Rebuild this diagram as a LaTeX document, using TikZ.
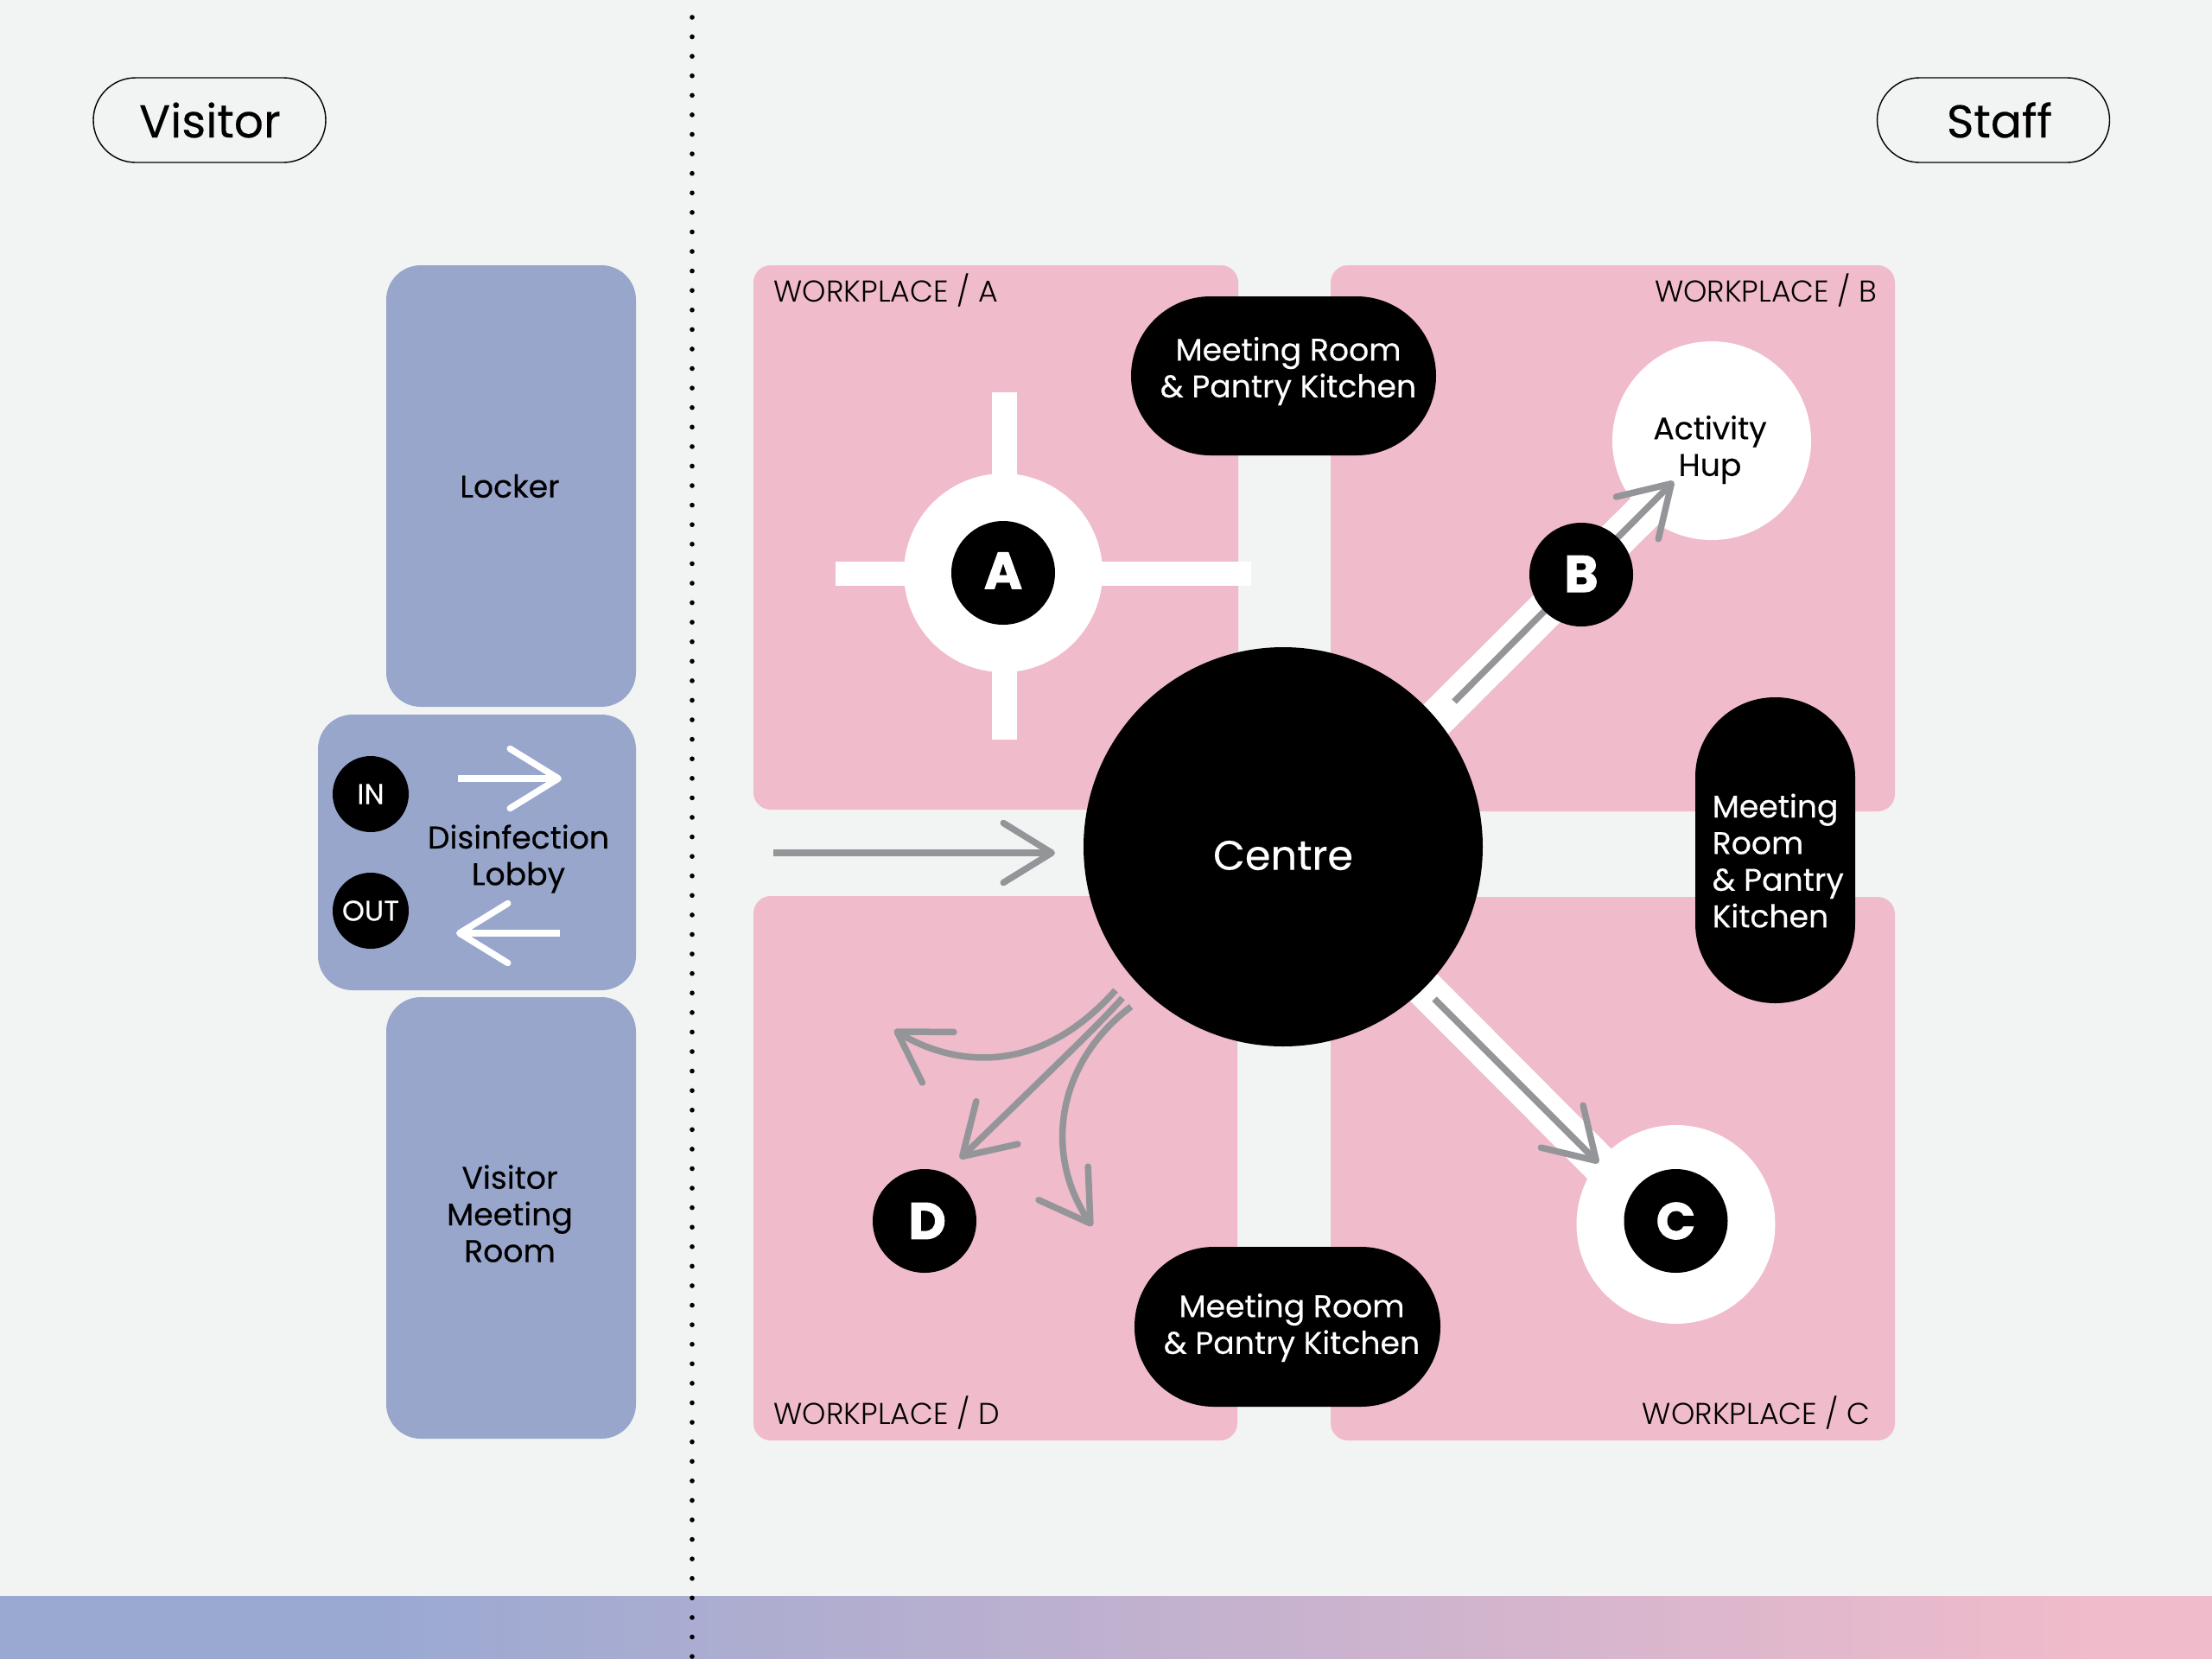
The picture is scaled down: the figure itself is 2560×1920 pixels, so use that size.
\documentclass[tikz,border=0pt]{standalone}
\usepackage{fontspec}
\setmainfont{Poppins}[FakeBold=0.25]
\newfontfamily\thinfont{Poppins Light}
\newfontfamily\heavyfont{Poppins}[BoldFeatures={FakeBold=1.5}]
\usetikzlibrary{arrows.meta,calc}

\definecolor{paper}{HTML}{F2F4F3}
\definecolor{rose}{HTML}{F0BBCB}
\definecolor{slate}{HTML}{98A6CB}
\definecolor{barblue}{HTML}{9AA9D2}
\definecolor{flowgray}{HTML}{939598}

\tikzset{
  ward/.style={fill=rose,rounded corners=2mm},
  room/.style={fill=slate,rounded corners=4mm},
  tag/.style={draw=black,line width=0.4pt,rounded corners=4.9mm,inner sep=0pt,minimum width=26.9mm,minimum height=9.8mm},
  tagtext/.style={inner sep=0pt,font=\fontsize{15.2}{17}\selectfont},
  lab/.style={inner sep=0pt,align=center,font=\fontsize{10.3}{12.06}\selectfont},
  wardlab/.style={inner sep=0pt,font=\thinfont\fontsize{9.9}{10}\selectfont},
  pill/.style={fill=black,inner sep=0pt,rounded corners=9.2mm},
  disc/.style={circle,fill=white,inner sep=0pt,minimum size=23mm},
  dot/.style={circle,fill=black,text=white,inner sep=0pt,minimum size=12mm,font=\heavyfont\bfseries\fontsize{17}{17}\selectfont},
  small/.style={circle,fill=black,text=white,inner sep=0pt,minimum size=8.8mm,font=\fontsize{9.4}{9.4}\selectfont},
  flow/.style={draw=flowgray,line width=0.75mm,-{Straight Barb[length=5.6mm,width=6.9mm,round]}},
  flowin/.style={flow,draw=white},
  band/.style={draw=white,line width=4.4mm},
  bar/.style={draw=white,line width=2.85mm}
}

\begin{document}
\begin{tikzpicture}[x=0.1mm,y=-0.1mm]
  \fill[paper] (0,0) rectangle (2560,1920);
  \useasboundingbox (0,0) rectangle (2560,1920);

  \fill[barblue] (0,1847) rectangle (430,1920);
  \shade[left color=barblue,right color=rose,shading angle=90] (430,1847) rectangle (2420,1920);
  \fill[rose] (2420,1847) rectangle (2560,1920);
  \draw[line width=1.6pt,line cap=round,dash pattern=on 0pt off 6.426pt] (801,20) -- (801,1920);

  \node[tag] (Vis) at (242.5,139) {};
  \node[tag] (Sta) at (2307,139) {};
  \node[tagtext] (VisT) at (243,139) {Visitor};
  \node[tagtext] (StaT) at (2314,139) {Staff};

  \fill[room] (447,307) rectangle (736,818);
  \fill[room] (368,827) rectangle (736,1146);
  \fill[room] (447,1154) rectangle (736,1665);
  \node[lab] (Lck) at (590,562.5) {Locker};
  \node[lab] (Lob) at (600,994) {Disinfection\\Lobby};
  \node[lab] (Vmr) at (590,1404.5) {Visitor\\Meeting\\Room};
  \node[small] (In) at (429,919) {\raisebox{-1.8pt}{IN}};
  \node[small] (Out) at (429,1054) {OUT};
  \coordinate (I1) at (530,901);
  \coordinate (I2) at (650,901);
  \coordinate (O1) at (648,1080);
  \coordinate (O2) at (528,1080);
  \draw[flowin] (I1) -- (I2);
  \draw[flowin] (O1) -- (O2);

  \fill[ward] (872,307) rectangle (1433,937);
  \fill[ward] (1540,307) rectangle (2193,939);
  \fill[ward] (1540,1038) rectangle (2193,1667);
  \fill[ward] (872,1037) rectangle (1432,1667);
  \node[wardlab,anchor=west] (WA) at (895,336) {WORKPLACE / A};
  \node[wardlab,anchor=east] (WB) at (2173,336) {WORKPLACE / B};
  \node[wardlab,anchor=east] (WC) at (2165,1635) {WORKPLACE / C};
  \node[wardlab,anchor=west] (WD) at (895,1635) {WORKPLACE / D};

  \draw[bar] (967,664) -- (1448,664);
  \draw[bar] (1162.5,454) -- (1162.5,856);

  \coordinate (Bs) at (1600,894);
  \coordinate (Be) at (1940,555);
  \coordinate (Cs) at (1620,1115);
  \coordinate (Ce) at (1880,1376);
  \draw[band] (Bs) -- (Be);
  \draw[band] (Cs) -- (Ce);

  \node[disc] (Act) at (1981,510) {};
  \node[lab] (Hup) at (1979,520.5) {Activity\\Hup};
  \node[disc] (Wa) at (1161,663) {};
  \node[disc] (Wc) at (1939.5,1417) {};

  \coordinate (B0) at (1683,812);
  \coordinate (B1) at (1937,557);
  \coordinate (C0) at (1660,1156);
  \coordinate (C1) at (1850,1346);
  \draw[flow] (B0) -- (B1);
  \draw[flow] (C0) -- (C1);

  \node[dot] (A) at (1161,663) {\raisebox{1.5pt}{A}};
  \node[dot] (B) at (1830,665) {\raisebox{0.5pt}{B}};
  \node[dot] (C) at (1939.5,1413) {C};
  \node[dot] (D) at (1070,1413) {\hspace*{1.8pt}D};

  \node[pill,minimum width=35.3mm,minimum height=18.4mm] (MrA) at (1485.5,435) {};
  \node[pill,minimum width=35.4mm,minimum height=18.5mm] (MrD) at (1490,1535.5) {};
  \node[pill,minimum width=18.5mm,minimum height=35.4mm] (MrB) at (2054.5,984) {};
  \node[lab,text=white] (MaT) at (1491,429.5) {Meeting Room\\\& Pantry Kitchen};
  \node[lab,text=white] (MdT) at (1495,1536.5) {Meeting Room\\\& Pantry Kitchen};
  \node[lab,text=white,align=left,anchor=west] (MbT) at (1981,996) {Meeting\\Room\\\& Pantry\\Kitchen};

  \node[circle,fill=black,inner sep=0pt,minimum size=46.2mm] (Ctr) at (1485,980) {};
  \node[inner sep=0pt,text=white,font=\fontsize{13.6}{16}\selectfont] (CtrT) at (1485,990) {Centre};

  \coordinate (G0) at (895,987);
  \coordinate (G1) at (1221,987);
  \draw[flow] (G0) -- (G1);

  \coordinate (D1) at (1291,1146);
  \coordinate (D2) at (1299,1155);
  \coordinate (D3) at (1309,1165);
  \coordinate (T1) at (1035,1192);
  \coordinate (T2) at (1111,1341);
  \coordinate (T3) at (1264,1419);
  \draw[flow] (D1) .. controls (1189,1261) and (1083,1222) .. (T1);
  \draw[flow] (D2) .. controls (1272,1185) and (1250,1206) .. (T2);
  \draw[flow] (D3) .. controls (1225,1228) and (1206,1333) .. (T3);
\end{tikzpicture}
\end{document}
